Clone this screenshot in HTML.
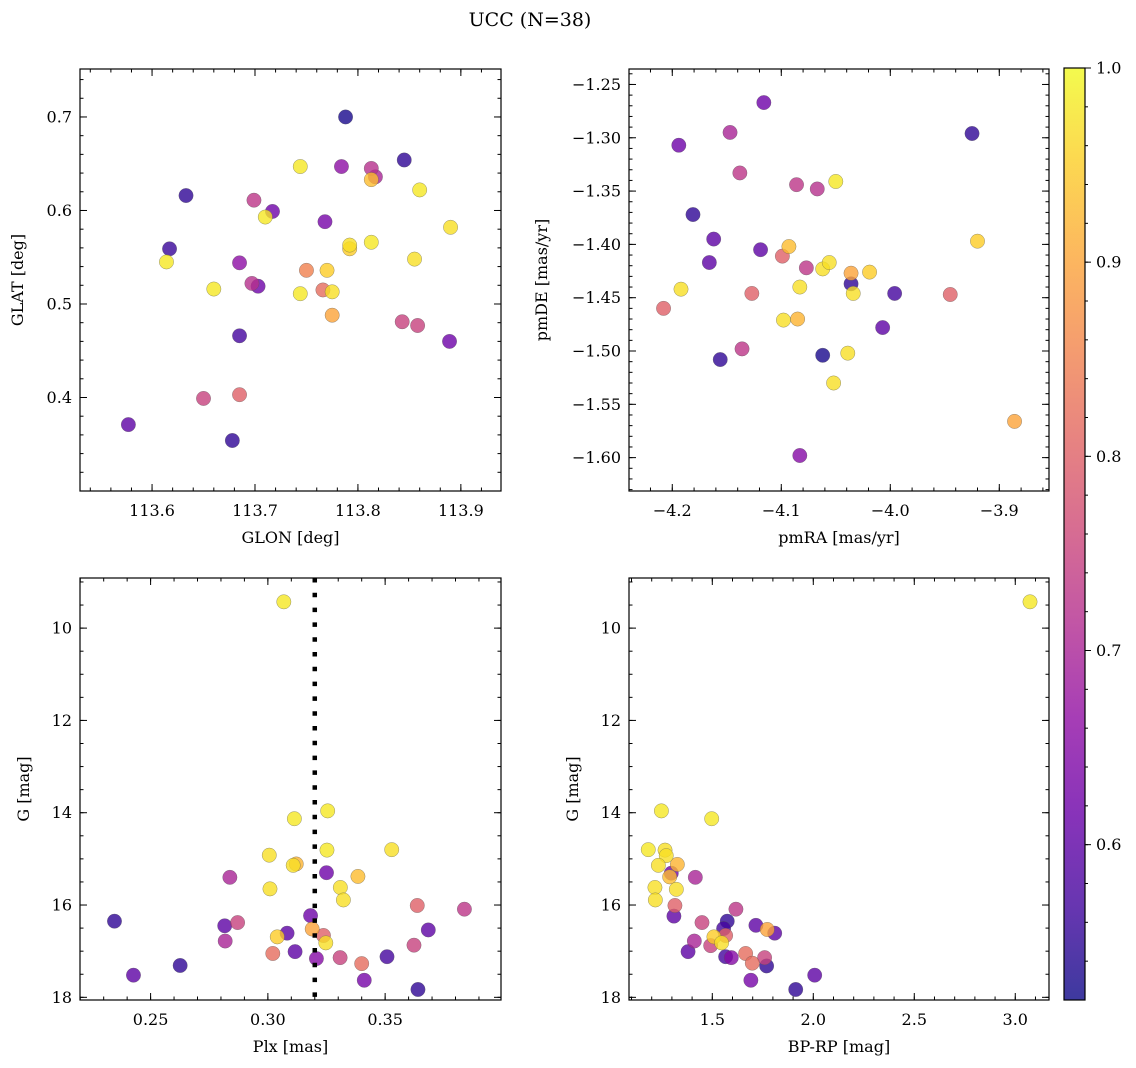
<!DOCTYPE html>
<html><head><meta charset="utf-8">
<style>
html,body{margin:0;padding:0;background:#fff;}
svg{display:block;font-family:"DejaVu Serif","Liberation Serif",serif;}
</style></head>
<body>
<svg id="fig" width="1136" height="1068" viewBox="0 0 1136 1068" xmlns="http://www.w3.org/2000/svg">
<rect width="1136" height="1068" fill="#fff"/>
<text x="530" y="26" text-anchor="middle" font-size="19">UCC (N=38)</text>
<defs>
<linearGradient id="plasma" x1="0" y1="1" x2="0" y2="0">
<stop offset="0" stop-color="#0d0887"/><stop offset="0.1" stop-color="#41049d"/><stop offset="0.2" stop-color="#6a00a8"/><stop offset="0.3" stop-color="#8f0da4"/><stop offset="0.4" stop-color="#b12a90"/><stop offset="0.5" stop-color="#cc4778"/><stop offset="0.6" stop-color="#e16462"/><stop offset="0.7" stop-color="#f2844b"/><stop offset="0.8" stop-color="#fca636"/><stop offset="0.9" stop-color="#fcce25"/><stop offset="1" stop-color="#f0f921"/>
</linearGradient>
</defs>
<g id="layer"></g>
</svg>
<script>
// ---- data ----
const glon = [113.788,113.845,113.744,113.784,113.813,113.817,113.813,113.860,113.633,113.699,113.717,113.710,113.768,113.792,113.792,113.813,113.890,113.617,113.614,113.685,113.855,113.750,113.770,113.660,113.697,113.703,113.766,113.775,113.744,113.775,113.843,113.858,113.889,113.685,113.650,113.685,113.577,113.678];
const glat = [0.700,0.654,0.647,0.647,0.645,0.636,0.633,0.622,0.616,0.611,0.599,0.593,0.588,0.563,0.559,0.566,0.582,0.559,0.545,0.544,0.548,0.536,0.536,0.516,0.522,0.519,0.515,0.513,0.511,0.488,0.481,0.477,0.460,0.466,0.399,0.403,0.371,0.354];
const probA = [0.53,0.55,0.98,0.66,0.72,0.70,0.93,0.98,0.55,0.73,0.62,0.98,0.63,0.97,0.95,0.98,0.97,0.56,0.98,0.66,0.97,0.85,0.95,0.98,0.72,0.62,0.82,0.97,0.98,0.90,0.75,0.75,0.62,0.57,0.75,0.80,0.60,0.55];

const pmra = [-4.116,-4.147,-3.925,-4.194,-4.138,-4.086,-4.067,-4.050,-4.181,-4.162,-4.119,-4.093,-4.099,-3.920,-4.166,-4.077,-4.062,-4.056,-4.036,-4.019,-4.036,-4.192,-4.127,-4.083,-4.034,-3.996,-3.945,-4.208,-4.098,-4.085,-4.136,-4.007,-4.062,-4.039,-4.156,-4.052,-3.886,-4.083];
const pmde = [-1.267,-1.295,-1.296,-1.307,-1.333,-1.344,-1.348,-1.341,-1.372,-1.395,-1.405,-1.402,-1.411,-1.397,-1.417,-1.422,-1.423,-1.417,-1.427,-1.426,-1.437,-1.442,-1.446,-1.440,-1.446,-1.446,-1.447,-1.460,-1.471,-1.470,-1.498,-1.478,-1.504,-1.502,-1.508,-1.530,-1.566,-1.598];
const probB = [0.62,0.70,0.55,0.62,0.73,0.73,0.72,0.98,0.55,0.60,0.60,0.93,0.80,0.95,0.60,0.73,0.97,0.97,0.90,0.95,0.55,0.97,0.80,0.97,0.97,0.57,0.80,0.80,0.97,0.92,0.73,0.60,0.53,0.97,0.55,0.97,0.90,0.65];

const plx = [0.3255,0.3113,0.3252,0.3528,0.3006,0.3121,0.3108,0.3250,0.3384,0.2838,0.3309,0.3009,0.3322,0.3637,0.3838,0.2346,0.3182,0.2816,0.2871,0.3684,0.3189,0.3082,0.3237,0.3040,0.3247,0.2818,0.3623,0.3021,0.3116,0.3508,0.3207,0.3308,0.3400,0.2626,0.2427,0.3411,0.3640,0.3068];
const gmagC = [13.96,14.13,14.81,14.80,14.92,15.11,15.14,15.30,15.38,15.40,15.62,15.65,15.89,16.01,16.09,16.35,16.23,16.45,16.38,16.54,16.52,16.61,16.66,16.69,16.82,16.78,16.87,17.05,17.01,17.12,17.16,17.14,17.27,17.31,17.52,17.63,17.83,9.43];
const probC = [0.98,0.98,0.98,0.97,0.97,0.92,0.97,0.62,0.93,0.70,0.97,0.97,0.97,0.80,0.73,0.55,0.62,0.60,0.75,0.60,0.90,0.60,0.80,0.95,0.97,0.70,0.75,0.82,0.60,0.57,0.65,0.75,0.82,0.55,0.60,0.63,0.55,0.98];
const plxCut = [0.32];

const bprp = [1.248,1.497,1.183,1.266,1.272,1.327,1.233,1.297,1.289,1.416,1.216,1.322,1.218,1.315,1.617,1.310,1.574,1.449,1.716,1.556,1.772,1.809,1.566,1.508,1.411,1.546,1.492,1.380,1.665,1.566,1.594,1.759,1.698,1.769,2.007,1.691,1.913,3.073];
const gmagD = [13.96,14.13,14.80,14.81,14.93,15.12,15.14,15.31,15.39,15.40,15.62,15.66,15.89,16.01,16.09,16.24,16.35,16.38,16.44,16.51,16.53,16.61,16.66,16.69,16.78,16.82,16.88,17.01,17.05,17.12,17.14,17.14,17.26,17.32,17.52,17.63,17.83,9.43];
const probD = [0.98,0.98,0.98,0.97,0.97,0.92,0.97,0.62,0.93,0.70,0.97,0.97,0.97,0.80,0.73,0.60,0.55,0.75,0.60,0.57,0.90,0.60,0.80,0.95,0.70,0.97,0.75,0.60,0.82,0.57,0.65,0.75,0.82,0.55,0.60,0.63,0.55,0.98];

const cbTicks = [0.6,0.7,0.8,0.9,1.0];
const cbMin = 0.52, cbMax = 1.0;

// ---- helpers ----
const NS = "http://www.w3.org/2000/svg";
const layer = document.getElementById('layer');
function mk(tag, attrs, parent){
  const e = document.createElementNS(NS, tag);
  for (const k in attrs) e.setAttribute(k, attrs[k]);
  (parent||layer).appendChild(e);
  return e;
}
const stops = ["#0d0887","#41049d","#6a00a8","#8f0da4","#b12a90","#cc4778","#e16462","#f2844b","#fca636","#fcce25","#f0f921"];
function hex(c){return [parseInt(c.substr(1,2),16),parseInt(c.substr(3,2),16),parseInt(c.substr(5,2),16)];}
function plasma(v){
  let t = (v-cbMin)/(cbMax-cbMin); t = Math.max(0,Math.min(1,t));
  const f = t*10, i = Math.min(9,Math.floor(f)), r = f-i;
  const a = hex(stops[i]), b = hex(stops[i+1]);
  return `rgb(${a.map((x,j)=>Math.round(x+(b[j]-x)*r)).join(',')})`;
}
function fmt(v,dec){ const s = v.toFixed(dec); return s.replace('-','\u2212'); }

function panel(cfg){
  const {name,x0,x1,y0,y1,xmin,xmax,ymin,ymax,xs,ys,ps,xMaj,xMin,yMaj,yMin,xDec,yDec,xlabel,ylabel,invY} = cfg;
  const sx = v => x0 + (v-xmin)/(xmax-xmin)*(x1-x0);
  const sy = invY ? (v => y0 + (v-ymin)/(ymax-ymin)*(y1-y0)) : (v => y1 - (v-ymin)/(ymax-ymin)*(y1-y0));
  const g = mk('g',{});
  
  
  const idx = ps.map((p,i)=>i).sort((a,b)=>ps[a]-ps[b]);
  const pg = mk('g',{},g);
  
  
  idx.forEach(i=>{
    const c = mk('circle',{cx:sx(xs[i]),cy:sy(ys[i]),r:7.2,fill:plasma(ps[i]),'fill-opacity':0.8,stroke:'#555','stroke-opacity':0.6,'stroke-width':0.5},pg);
    
    
  });
  if (cfg.extra) cfg.extra(g,sx,sy);
  const fr = mk('rect',{x:x0,y:y0,width:x1-x0,height:y1-y0,fill:'none',stroke:'#000','stroke-width':1.2},g);
  
  
  const tk = (pos,len,isX)=>{
    if(isX){ mk('line',{x1:pos,x2:pos,y1:y1,y2:y1-len,stroke:'#000','stroke-width':1},g); mk('line',{x1:pos,x2:pos,y1:y0,y2:y0+len,stroke:'#000','stroke-width':1},g); }
    else { mk('line',{y1:pos,y2:pos,x1:x0,x2:x0+len,stroke:'#000','stroke-width':1},g); mk('line',{y1:pos,y2:pos,x1:x1,x2:x1-len,stroke:'#000','stroke-width':1},g); }
  };
  const eps=1e-9;
  for(let v=Math.ceil(xmin/xMin-eps)*xMin; v<=xmax+eps; v+=xMin) tk(sx(v),3.5,true);
  for(let v=Math.ceil(ymin/yMin-eps)*yMin; v<=ymax+eps; v+=yMin) tk(sy(v),3.5,false);
  xMaj.forEach(v=>{ tk(sx(v),7,true);
    const t = mk('text',{x:sx(v),y:y1+25,'text-anchor':'middle','font-size':16},g); t.textContent = fmt(v,xDec);
    
     });
  yMaj.forEach(v=>{ tk(sy(v),7,false);
    const t = mk('text',{x:x0-8,y:sy(v)+5.5,'text-anchor':'end','font-size':16},g); t.textContent = fmt(v,yDec);
    
     });
  const xl = mk('text',{x:(x0+x1)/2,y:y1+52,'text-anchor':'middle','font-size':16},g); xl.textContent = xlabel;
  
  
  const yx = cfg.ylabelX, ym=(y0+y1)/2;
  const yl = mk('text',{x:yx,y:ym,'text-anchor':'middle','font-size':16,transform:`rotate(-90 ${yx} ${ym})`},g); yl.textContent = ylabel;
  
  
}

panel({name:'glon-glat-panel',x0:80,x1:501,y0:69,y1:491,xmin:113.530,xmax:113.939,ymin:0.300,ymax:0.7513,
  xs:glon,ys:glat,ps:probA,xMaj:[113.6,113.7,113.8,113.9],xMin:0.02,yMaj:[0.4,0.5,0.6,0.7],yMin:0.02,xDec:1,yDec:1,
  xlabel:'GLON [deg]',ylabel:'GLAT [deg]',ylabelX:23});
panel({name:'pm-panel',x0:629,x1:1049,y0:69,y1:491,xmin:-4.2397,xmax:-3.8544,ymin:-1.6313,ymax:-1.2355,
  xs:pmra,ys:pmde,ps:probB,xMaj:[-4.2,-4.1,-4.0,-3.9],xMin:0.02,yMaj:[-1.6,-1.55,-1.5,-1.45,-1.4,-1.35,-1.3,-1.25],yMin:0.01,xDec:1,yDec:2,
  xlabel:'pmRA [mas/yr]',ylabel:'pmDE [mas/yr]',ylabelX:547});
panel({name:'plx-g-panel',x0:80,x1:501,y0:578,y1:1000,xmin:0.2199,xmax:0.3994,ymin:8.914,ymax:18.058,invY:true,
  xs:plx,ys:gmagC,ps:probC,xMaj:[0.25,0.30,0.35],xMin:0.01,yMaj:[10,12,14,16,18],yMin:0.5,xDec:2,yDec:0,
  xlabel:'Plx [mas]',ylabel:'G [mag]',ylabelX:29,
  extra:(g,sx,sy)=>{ const l = mk('line',{x1:sx(plxCut[0]),x2:sx(plxCut[0]),y1:578,y2:1000,stroke:'#000','stroke-width':4.5,'stroke-dasharray':'4.5 10.3'},g);
    
     }});
panel({name:'cmd-panel',x0:629,x1:1049,y0:578,y1:1000,xmin:1.0876,xmax:3.167,ymin:8.914,ymax:18.058,invY:true,
  xs:bprp,ys:gmagD,ps:probD,xMaj:[1.5,2.0,2.5,3.0],xMin:0.1,yMaj:[10,12,14,16,18],yMin:0.5,xDec:1,yDec:0,
  xlabel:'BP-RP [mag]',ylabel:'G [mag]',ylabelX:578});

// colorbar
(function(){
  const cx0=1064,cx1=1085,cy0=68,cy1=1000;
  const g = mk('g',{});
  
  
  mk('rect',{x:cx0,y:cy0,width:cx1-cx0,height:cy1-cy0,fill:'url(#plasma)','fill-opacity':0.8},g);
  mk('rect',{x:cx0,y:cy0,width:cx1-cx0,height:cy1-cy0,fill:'none',stroke:'#000','stroke-width':1.2},g);
  const sc = v => cy1 - (v-cbMin)/(cbMax-cbMin)*(cy1-cy0);
  for(let v=0.54; v<=1.0001; v+=0.02){ mk('line',{x1:cx1,x2:cx1+3,y1:sc(v),y2:sc(v),stroke:'#000','stroke-width':1},g); }
  cbTicks.forEach(v=>{
    mk('line',{x1:cx1,x2:cx1+6,y1:sc(v),y2:sc(v),stroke:'#000','stroke-width':1},g);
    const t = mk('text',{x:cx1+11,y:sc(v)+5.5,'font-size':16},g); t.textContent = v.toFixed(1);
    
    
  });
})();
</script>
</body></html>
